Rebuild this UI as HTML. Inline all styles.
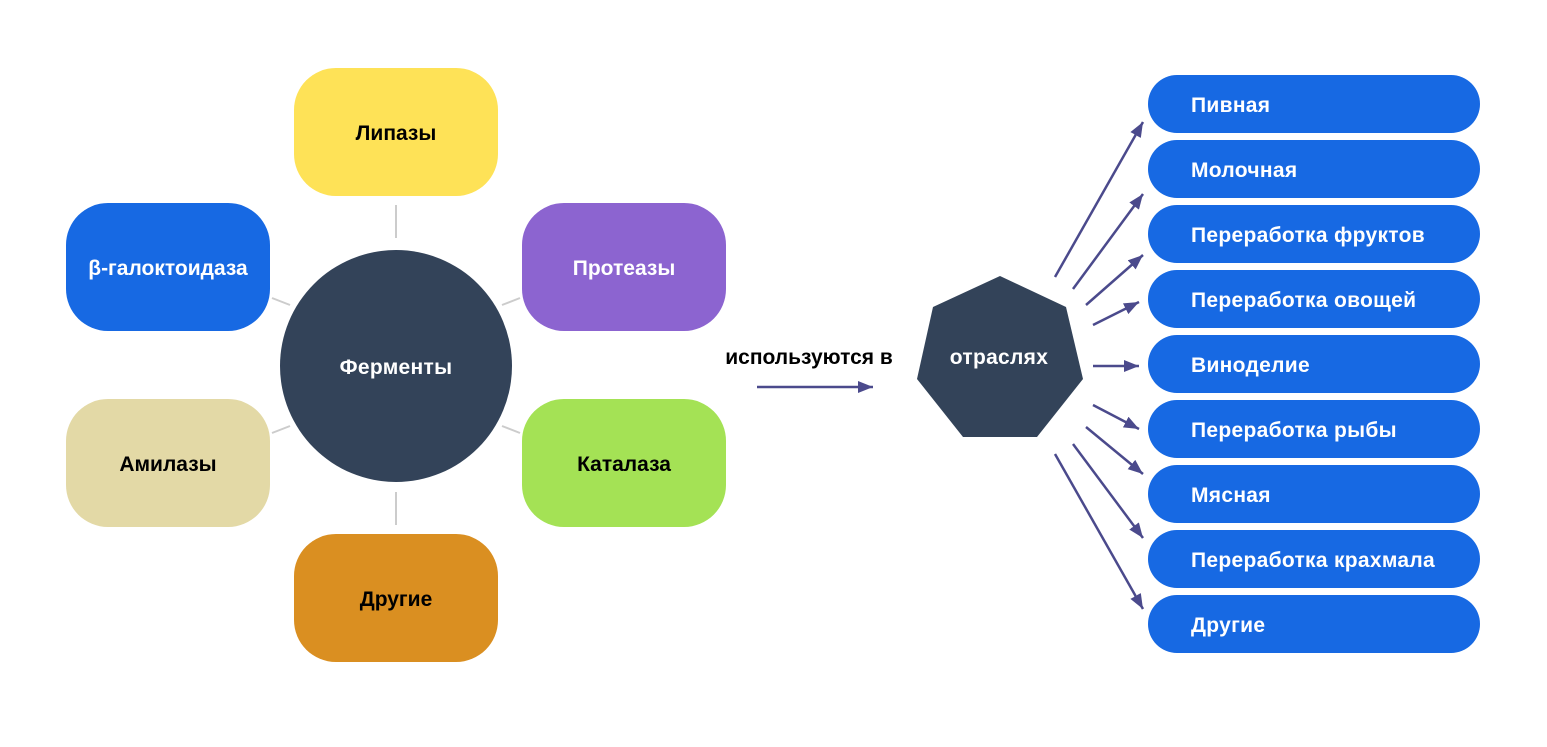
<!DOCTYPE html>
<html><head><meta charset="utf-8"><style>
body{margin:0;background:#fff;}
svg text{font-family:"Liberation Sans",sans-serif;font-weight:bold;}
</style></head><body>
<svg width="1547" height="742" viewBox="0 0 1547 742" xmlns="http://www.w3.org/2000/svg">
<defs>
<marker id="b" markerWidth="16" markerHeight="16" refX="15" refY="6" orient="auto" markerUnits="userSpaceOnUse"><path d="M0,0 L15,6 L0,12 z" fill="#4b4a8c"/></marker></defs>
<g stroke="#cccccc" stroke-width="2">
<line x1="396" y1="205" x2="396" y2="238"/><line x1="396" y1="492" x2="396" y2="525"/>
<line x1="272" y1="298" x2="290" y2="305"/><line x1="502" y1="305" x2="520" y2="298"/>
<line x1="272" y1="433" x2="290" y2="426"/><line x1="502" y1="426" x2="520" y2="433"/>
</g>
<circle cx="396" cy="366" r="116" fill="#334359"/>
<text x="396" y="374" fill="#fff" font-size="21" text-anchor="middle" letter-spacing="0.3">Ферменты</text>
<rect x="294" y="68" width="204" height="128" rx="42" fill="#fee257"/>
<text x="396" y="140" font-size="21" text-anchor="middle" fill="#000">Липазы</text>
<rect x="66" y="203" width="204" height="128" rx="42" fill="#1769e3"/>
<text x="168" y="275" font-size="21" text-anchor="middle" fill="#fff">β-галоктоидаза</text>
<rect x="522" y="203" width="204" height="128" rx="42" fill="#8c64d0"/>
<text x="624" y="275" font-size="21" text-anchor="middle" fill="#fff">Протеазы</text>
<rect x="66" y="399" width="204" height="128" rx="42" fill="#e3d9a6"/>
<text x="168" y="471" font-size="21" text-anchor="middle" fill="#000">Амилазы</text>
<rect x="522" y="399" width="204" height="128" rx="42" fill="#a4e255"/>
<text x="624" y="471" font-size="21" text-anchor="middle" fill="#000">Каталаза</text>
<rect x="294" y="534" width="204" height="128" rx="42" fill="#da8f21"/>
<text x="396" y="606" font-size="21" text-anchor="middle" fill="#000">Другие</text>
<text x="809" y="364" font-size="21" text-anchor="middle" fill="#000">используются в</text>
<line x1="757" y1="387" x2="873" y2="387" stroke="#4b4a8c" stroke-width="2.5" marker-end="url(#b)"/>
<polygon points="1000,276 1066,307 1083,379 1037,437 963,437 917,379 933,307" fill="#334359"/>
<text x="999" y="364" font-size="21" text-anchor="middle" fill="#fff" letter-spacing="0.3">отраслях</text>
<g fill="#1769e3">
<rect x="1148" y="75" width="332" height="58" rx="29"/><rect x="1148" y="140" width="332" height="58" rx="29"/>
<rect x="1148" y="205" width="332" height="58" rx="29"/><rect x="1148" y="270" width="332" height="58" rx="29"/>
<rect x="1148" y="335" width="332" height="58" rx="29"/><rect x="1148" y="400" width="332" height="58" rx="29"/>
<rect x="1148" y="465" width="332" height="58" rx="29"/><rect x="1148" y="530" width="332" height="58" rx="29"/>
<rect x="1148" y="595" width="332" height="58" rx="29"/>
</g>
<g fill="#fff" font-size="21" letter-spacing="0.3">
<text x="1191" y="112">Пивная</text><text x="1191" y="177">Молочная</text>
<text x="1191" y="242">Переработка фруктов</text><text x="1191" y="307">Переработка овощей</text>
<text x="1191" y="372">Виноделие</text><text x="1191" y="437">Переработка рыбы</text>
<text x="1191" y="502">Мясная</text><text x="1191" y="567">Переработка крахмала</text>
<text x="1191" y="632">Другие</text>
</g>
<g stroke="#4b4a8c" stroke-width="2.5" marker-end="url(#b)">
<line x1="1055" y1="277" x2="1143" y2="122"/>
<line x1="1073" y1="289" x2="1143" y2="194"/>
<line x1="1086" y1="305" x2="1143" y2="255"/>
<line x1="1093" y1="325" x2="1139" y2="302"/>
<line x1="1093" y1="366" x2="1139" y2="366"/>
<line x1="1093" y1="405" x2="1139" y2="429"/>
<line x1="1086" y1="427" x2="1143" y2="474"/>
<line x1="1073" y1="444" x2="1143" y2="538"/>
<line x1="1055" y1="454" x2="1143" y2="609"/>
</g>
</svg>
</body></html>
